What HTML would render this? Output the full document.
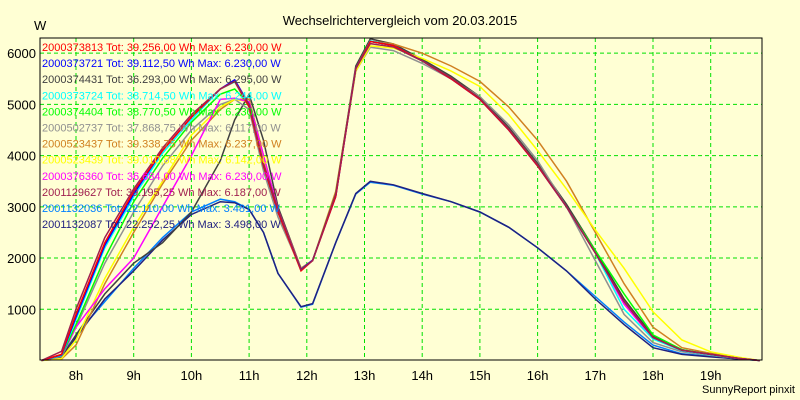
<!DOCTYPE html>
<html><head><meta charset="utf-8">
<style>
body{margin:0;background:#ffffd4;}
svg{display:block;font-family:"Liberation Sans",sans-serif;}
</style></head>
<body>
<svg id="chart" width="800" height="400">
<rect x="0" y="0" width="800" height="400" fill="#ffffd4"/>
<text x="400" y="25" font-size="13" text-anchor="middle" fill="#000">Wechselrichtervergleich vom 20.03.2015</text>
<text x="34" y="30" font-size="13" fill="#000">W</text>
<text x="795" y="393" font-size="11" text-anchor="end" fill="#000">SunnyReport pinxit</text>
<g id="grid"></g><g id="series"></g><g id="axes"></g><g id="legend"></g>
</svg>
<script>
const times=[7.4,7.75,8,8.5,9,9.5,10,10.5,10.75,11,11.25,11.5,11.9,12.1,12.5,12.85,13.1,13.5,14,14.5,15,15.5,16,16.5,17,17.5,18,18.5,19,19.5,19.85];
const seriesNames=["2000373813 Tot: 39.256,00 Wh Max: 6.230,00 W","2000373721 Tot: 39.112,50 Wh Max: 6.230,00 W","2000374431 Tot: 36.293,00 Wh Max: 6.295,00 W","2000373724 Tot: 38.714,50 Wh Max: 6.244,00 W","2000374404 Tot: 38.770,50 Wh Max: 6.230,00 W","2000502737 Tot: 37.868,75 Wh Max: 6.117,00 W","2000523437 Tot: 39.338,75 Wh Max: 6.237,00 W","2000523439 Tot: 39.010,88 Wh Max: 6.142,00 W","2000376360 Tot: 36.684,00 Wh Max: 6.230,00 W","2001129627 Tot: 39.195,25 Wh Max: 6.187,00 W","2001132036 Tot: 22.110,00 Wh Max: 3.481,00 W","2001132087 Tot: 22.252,25 Wh Max: 3.498,00 W"];
const seriesColors=["#ff0000","#0000ff","#404040","#00ffff","#00ff00","#909090","#d08020","#ffff00","#ff00ff","#a02050","#0080ff","#202080"];
const s0=[0,120,900,2300,3300,4100,4750,5300,5450,4950,3800,2900,1750,1950,3200,5700,6230,6150,5850,5500,5100,4500,3800,3000,2100,1150,450,200,120,40,0];
const s1=[0,110,850,2250,3250,4100,4750,5300,5480,5000,3800,2900,1780,1960,3200,5700,6230,6150,5850,5500,5100,4500,3800,3000,2100,1150,450,200,120,40,0];
const s2=[0,60,500,1300,1900,2300,2900,3900,4700,5200,4300,3000,1800,1950,3250,5750,6280,6180,5880,5550,5150,4550,3850,3050,2150,1200,480,210,120,40,0];
const s3=[0,100,800,2200,3200,4050,4700,5300,5440,4950,3800,2900,1760,1950,3200,5700,6240,6150,5850,5500,5100,4500,3800,3000,2100,1000,420,190,110,40,0];
const s4=[0,90,700,2000,3100,3950,4650,5200,5300,5000,3800,2900,1780,1950,3250,5700,6230,6150,5850,5520,5120,4520,3820,3000,2150,1300,500,210,120,40,0];
const s5=[0,80,650,1900,2900,3800,4500,5000,5100,4900,3700,2800,1780,1950,3250,5650,6117,6050,5800,5500,5150,4600,3900,3000,1950,900,350,170,100,40,0];
const s6=[0,30,300,1500,2500,3450,4300,4900,5100,5100,4000,2950,1800,1950,3300,5700,6237,6180,6000,5750,5450,4950,4300,3500,2500,1500,650,250,140,50,0];
const s7=[0,40,400,1600,2600,3500,4400,4950,5100,5050,3900,2900,1790,1950,3250,5650,6142,6100,5900,5650,5350,4800,4100,3350,2550,1800,950,400,170,60,0];
const s8=[0,80,650,1400,2000,3000,4000,5100,5120,5050,4000,2950,1780,1950,3200,5700,6230,6150,5850,5500,5100,4500,3800,3000,2100,1100,430,200,120,40,0];
const s9=[0,180,1000,2400,3350,4150,4800,5300,5450,5000,3850,2950,1770,1950,3250,5700,6187,6120,5850,5520,5120,4520,3820,3000,2100,1150,450,200,120,40,0];
const s10=[0,100,500,1150,1800,2400,2900,3150,3100,2950,2500,1700,1040,1100,2300,3250,3481,3420,3250,3100,2900,2600,2200,1750,1250,750,300,130,80,30,0];
const s11=[0,90,450,1200,1750,2350,2850,3100,3080,2950,2500,1700,1050,1110,2300,3260,3498,3430,3260,3100,2900,2600,2200,1750,1200,700,250,120,70,30,0];
const seriesValues=[s0,s1,s2,s3,s4,s5,s6,s7,s8,s9,s10,s11];
const xTicks=[8,9,10,11,12,13,14,15,16,17,18,19];
const yTicks=[1000,2000,3000,4000,5000,6000];
const X0=40,X1=762,Y0=360,YT=38;
const xs=h=>76+(h-8)*57.7;
const ys=v=>360.5-v*0.05122;
const NS="http://www.w3.org/2000/svg";
function mk(tag,parent,attrs){const e=document.createElementNS(NS,tag);for(const k in attrs)e.setAttribute(k,attrs[k]);parent.appendChild(e);return e;}
const grid=document.getElementById('grid'),axes=document.getElementById('axes'),ser=document.getElementById('series'),leg=document.getElementById('legend');
xTicks.forEach(h=>{const l=mk('line',grid,{x1:xs(h),x2:xs(h),y1:YT,y2:Y0,stroke:'#00e000','stroke-dasharray':'4,3'});


const t=mk('text',axes,{x:xs(h),y:380,'font-size':13,'text-anchor':'middle'});t.textContent=h+'h';

});
yTicks.forEach(v=>{const l=mk('line',grid,{x1:X0,x2:X1,y1:ys(v),y2:ys(v),stroke:'#00e000','stroke-dasharray':'4,3'});


const t=mk('text',axes,{x:36,y:ys(v)+5,'font-size':13,'text-anchor':'end'});t.textContent=v;

});
const frame=mk('rect',axes,{x:X0,y:YT,width:X1-X0,height:Y0-YT,fill:'none',stroke:'#000','stroke-width':1});


const order=[10,11,2,5,6,7,8,4,3,1,0,9];
order.forEach(i=>{const pts=times.map((t,j)=>xs(t).toFixed(1)+','+ys(seriesValues[i][j]).toFixed(1)).join(' ');
const p=mk('polyline',ser,{points:pts,fill:'none',stroke:seriesColors[i],'stroke-width':1.5});

});
seriesNames.forEach((n,i)=>{const t=mk('text',leg,{x:42,y:51+i*16.1,'font-size':11,fill:seriesColors[i]});t.textContent=n;

});
</script>
</body></html>
